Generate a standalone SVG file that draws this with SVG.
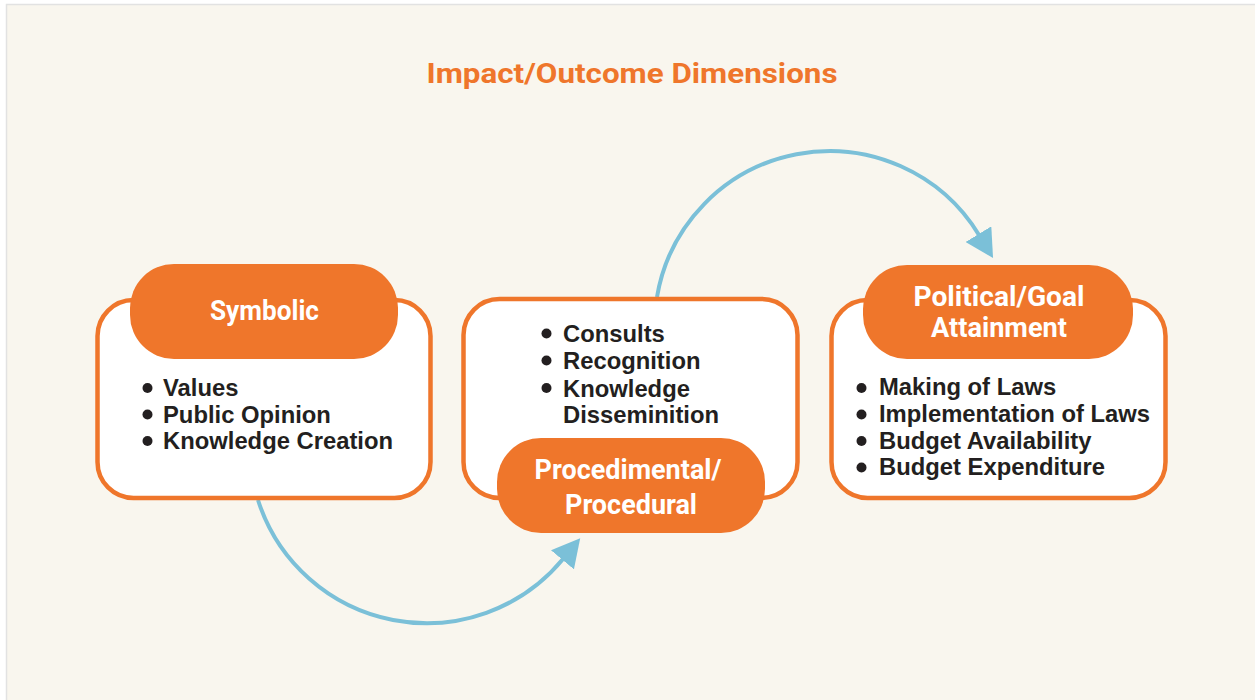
<svg xmlns="http://www.w3.org/2000/svg" width="1255" height="700" viewBox="0 0 1255 700">
  <style>
    .box { fill: #ffffff; stroke: #ef762b; stroke-width: 4.5; }
    .pill { fill: #ef762b; }
    .ptxt { font-family: "Roboto", "Liberation Sans", sans-serif; font-weight: 700; font-size: 28.5px; fill: #ffffff; text-anchor: middle; }
    .btxt { font-family: "Liberation Sans", Arial, sans-serif; font-weight: 700; font-size: 23.8px; fill: #231f20; }
    .dot { fill: #231f20; }
    .conn { fill: none; stroke: #7bc0d8; stroke-width: 4; }
    .title { font-family: "Roboto", "Liberation Sans", sans-serif; font-weight: 700; font-size: 28px; fill: #ef762b; text-anchor: middle; }
  </style>
  <defs>
    <marker id="arrow" markerUnits="userSpaceOnUse" markerWidth="28" markerHeight="30" viewBox="0 0 28 30" refX="1" refY="15" orient="auto">
      <path d="M0,0 L28,15 L0,30 z" fill="#7bc0d8"/>
    </marker>
  </defs>
  <rect x="0" y="0" width="1255" height="700" fill="#ffffff"/>
  <rect x="6.5" y="4.5" width="1260" height="700" fill="#f9f6ee" stroke="#e2e2e2" stroke-width="1.5"/>
  <text class="title" x="632" y="82.5" textLength="411" lengthAdjust="spacingAndGlyphs">Impact/Outcome Dimensions</text>

  <g id="connectors">
    <path class="conn" d="M 258,500 A 177 177 0 0 0 563,559" marker-end="url(#arrow)"/>
    <path class="conn" d="M 657,297 A 175 175 0 0 1 979,235" marker-end="url(#arrow)"/>
  </g>

  <g id="symbolic">
    <rect class="box" x="97.5" y="300" width="333" height="198" rx="36"/>
    <rect class="pill" x="130" y="264" width="268" height="95" rx="44"/>
    <text class="ptxt" x="264.5" y="320" textLength="109" lengthAdjust="spacingAndGlyphs">Symbolic</text>
    <circle class="dot" cx="147.5" cy="388" r="5"/>
    <circle class="dot" cx="147.5" cy="414.5" r="5"/>
    <circle class="dot" cx="147.5" cy="441" r="5"/>
    <text class="btxt" x="163" y="396">Values</text>
    <text class="btxt" x="163" y="422.5">Public Opinion</text>
    <text class="btxt" x="163" y="449">Knowledge Creation</text>
  </g>

  <g id="procedural">
    <rect class="box" x="463.5" y="299" width="334" height="199" rx="36"/>
    <rect class="pill" x="497" y="438" width="268" height="95" rx="44"/>
    <text class="ptxt" x="628" y="478.5" textLength="187" lengthAdjust="spacingAndGlyphs">Procedimental/</text>
    <text class="ptxt" x="631" y="514" textLength="132" lengthAdjust="spacingAndGlyphs">Procedural</text>
    <circle class="dot" cx="546.5" cy="333.5" r="5"/>
    <circle class="dot" cx="546.5" cy="360.5" r="5"/>
    <circle class="dot" cx="546.5" cy="388" r="5"/>
    <text class="btxt" x="563" y="341.5">Consults</text>
    <text class="btxt" x="563" y="369">Recognition</text>
    <text class="btxt" x="563" y="396.5">Knowledge</text>
    <text class="btxt" x="563" y="422.5">Disseminition</text>
  </g>

  <g id="political">
    <rect class="box" x="831.5" y="300" width="334" height="198" rx="36"/>
    <rect class="pill" x="863" y="265" width="270" height="94" rx="44"/>
    <text class="ptxt" x="999" y="305.5" textLength="171" lengthAdjust="spacingAndGlyphs">Political/Goal</text>
    <text class="ptxt" x="999" y="337" textLength="136" lengthAdjust="spacingAndGlyphs">Attainment</text>
    <circle class="dot" cx="861.5" cy="388" r="5"/>
    <circle class="dot" cx="861.5" cy="414.5" r="5"/>
    <circle class="dot" cx="861.5" cy="441" r="5"/>
    <circle class="dot" cx="861.5" cy="467.5" r="5"/>
    <text class="btxt" x="879" y="395">Making of Laws</text>
    <text class="btxt" x="879" y="422">Implementation of Laws</text>
    <text class="btxt" x="879" y="449">Budget Availability</text>
    <text class="btxt" x="879" y="475">Budget Expenditure</text>
  </g>
</svg>
